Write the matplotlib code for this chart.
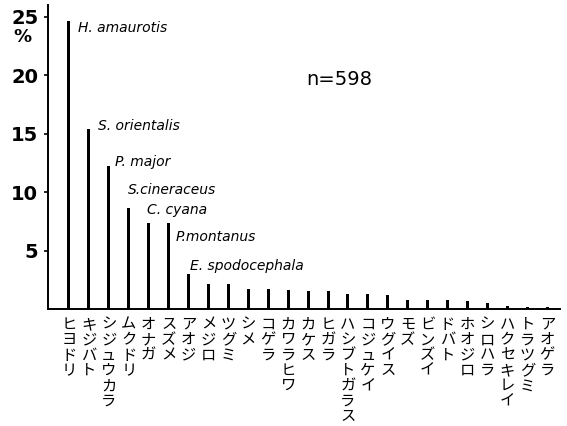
import numpy as np
import matplotlib.pyplot as plt

plt.rcParams['font.family'] = ['DejaVu Sans']

# 種別ごとの出現率 (%)
species = ['ヒヨドリ', 'キジバト', 'シジュウカラ', 'ムクドリ', 'オナガ', 'スズメ',
           'アオジ', 'メジロ', 'ツグミ', 'シメ', 'コゲラ', 'カワラヒワ', 'カケス',
           'ヒガラ', 'ハシブトガラス', 'コジュケイ', 'ウグイス', 'モズ', 'ビンズイ',
           'ドバト', 'ホオジロ', 'シロハラ', 'ハクセキレイ', 'トラツグミ', 'アオゲラ']
percent = [24.6, 15.4, 12.2, 8.6, 7.4, 7.4,
           3.0, 2.1, 2.1, 1.7, 1.7, 1.6, 1.5,
           1.5, 1.3, 1.3, 1.2, 0.8, 0.8,
           0.8, 0.7, 0.5, 0.3, 0.2, 0.2]

# 学名ラベル (バー番号, 名前, x方向ずれ, y位置)
sci_idx = [0, 1, 2, 3, 4, 5, 6]
sci_names = ['H. amaurotis', 'S. orientalis', 'P. major', 'S.cineraceus',
             'C. cyana', 'P.montanus', 'E. spodocephala']
sci_dx = [0.45, 0.45, 0.31, -0.04, -0.08, 0.33, 0.08]
sci_y = [24.0, 15.7, 12.6, 10.2, 8.5, 6.2, 3.7]

n_total = 598

fig = plt.figure(figsize=(5.67, 4.26), dpi=100)
ax = fig.add_axes([0.0847, 0.2746, 0.9033, 0.7134])

x = np.arange(len(species))
ax.bar(x, percent, width=0.15, color='black')

ax.set_xlim(-1.05, 24.65)
ax.set_ylim(0, 26)

for side in ['top', 'right']:
    ax.spines[side].set_visible(False)
ax.spines['left'].set_linewidth(1.4)
ax.spines['bottom'].set_linewidth(1.4)

ax.set_yticks([5, 10, 15, 20, 25])
ax.tick_params(axis='y', length=3, width=1.2, pad=4, labelsize=14)
for t in ax.get_yticklabels():
    t.set_fontweight('bold')

# カタカナは縦書き
ax.set_xticks(x)
ax.set_xticklabels(['\n'.join(s) for s in species], va='top',
                   family=['Noto Sans CJK JP', 'DejaVu Sans'],
                   fontsize=11, linespacing=0.87)
ax.tick_params(axis='x', length=0, pad=5)

for i, name, dx, y in zip(sci_idx, sci_names, sci_dx, sci_y):
    ax.text(i + dx, y, name, style='italic', fontsize=10,
            ha='left', va='center')

ax.text(11.9, 19.6, f'n={n_total}', fontsize=14, ha='left', va='center')
fig.text(22 / 567, 1 - 37 / 426, '%', fontsize=13, fontweight='bold',
         ha='center', va='center')

fig.savefig('out.png', dpi=100)
